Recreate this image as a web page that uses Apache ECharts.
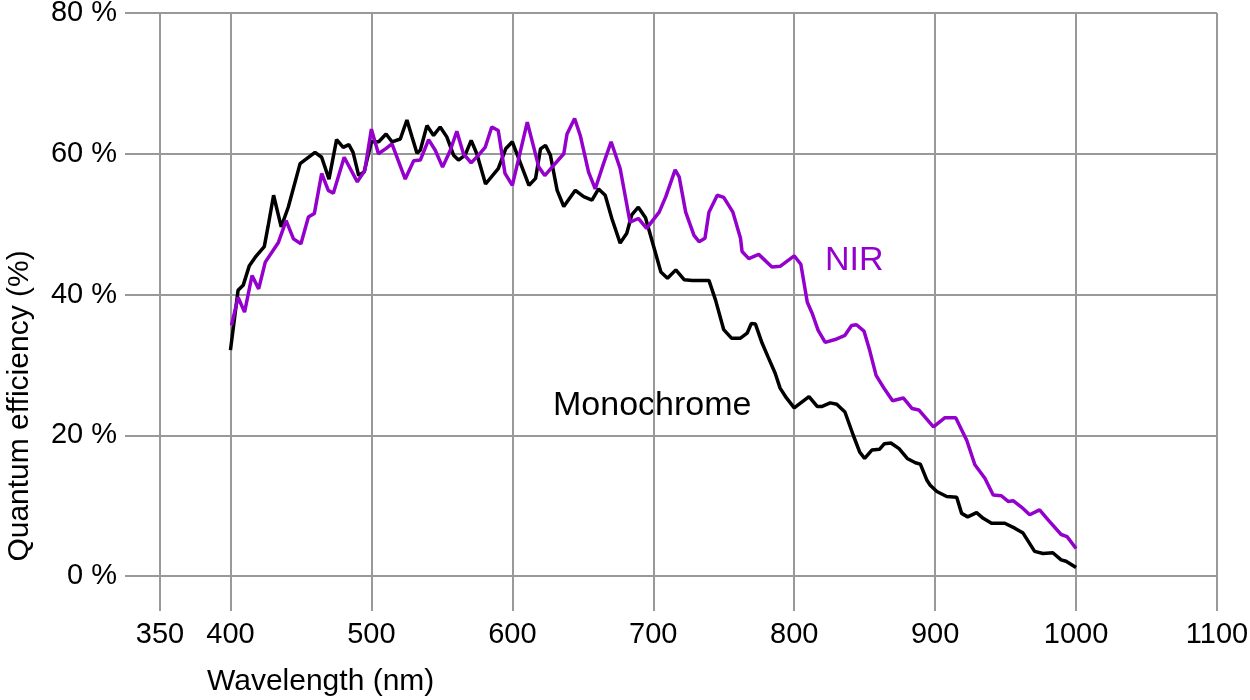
<!DOCTYPE html>
<html>
<head>
<meta charset="utf-8">
<script src="https://cdn.jsdelivr.net/npm/echarts@6/dist/echarts.min.js"></script>
<style>
html,body{margin:0;padding:0;background:#fff;}
#chart{width:1250px;height:700px;}
</style>
</head>
<body>
<div id="chart"></div>
<script>
// Monochrome sensor: wavelength (nm) and quantum efficiency (%)
var monoNm = [400,405.4,409,413.4,417.6,424,426.6,430.6,436,441,449.4,460,464.7,469.9,475.3,480,484,487,491,494.8,
  500,505.2,510.4,514.6,520.5,525.2,528.8,532.3,534.7,539.4,544.1,548.8,553.5,558.3,561.8,566.5,570.8,574.8,581,590,595.3,
  600,611.8,616.5,620,623.5,627,631.8,636.5,644.7,650.6,656.5,661.2,665.9,670.6,676.5,681.2,684.7,689.4,694.5,
  705.4,710.1,716,721.9,727.8,739.5,744.2,750,755.5,761.9,766.6,769.6,772.5,777.2,781.5,786.5,790,794.5,
  800,810.5,816.3,819.8,825.6,830.2,836,841.9,846.5,850,855.1,860.5,864,868.6,874.4,880.2,886,889.5,894.2,896.5,
  901.2,908.2,915.3,918.8,923.1,929.4,934.1,940,949.4,956.5,962.4,970.6,976.5,983.5,989.4,992.9,1000];
var monoQE = [32.1,40.6,41.3,44.1,45.3,46.8,49.6,54.1,49.6,52.4,58.6,60.2,59.5,56.4,62,60.9,61.3,60.2,56.9,57.4,
  61.7,61.7,62.8,61.7,62.1,64.8,62.4,60.1,60.5,64,62.6,63.8,62.4,59.8,59.1,59.8,61.9,60,55.7,57.9,60.7,
  61.7,55.5,56.5,60.7,61.2,59.8,54.8,52.5,54.8,53.9,53.4,55,54.1,50.8,47.3,48.7,51.3,52.4,50.9,
  43.2,42.3,43.5,42.1,42,42,39.2,35,33.8,33.8,34.5,35.9,35.8,33.1,31.1,28.8,26.7,25.3,
  23.9,25.5,24.1,24.1,24.6,24.4,23.3,20,17.6,16.7,17.9,18,18.8,18.9,18.1,16.7,16.1,15.9,13.6,12.9,
  12,11.3,11.2,8.9,8.4,9,8.2,7.5,7.5,6.8,6.1,3.5,3.2,3.3,2.3,2.1,1.2];

// NIR sensor: wavelength (nm) and quantum efficiency (%)
var nirNm = [400.7,405.4,410,415.3,420,424.7,434,439.5,444.7,450,455.3,459.5,464.7,469.4,473,480.7,490,495.3,
  500,505,510,514.6,524,530,534.7,540.6,545.3,550.5,556,560.6,565.3,570.8,576,580.7,585.4,590,594.8,
  600,610.6,618.8,623,628.2,636.5,638.8,644.2,648.2,654.1,658.8,664.7,670.1,676.5,683.5,689.4,695.3,
  704.2,708.9,715.5,718.4,723,728.9,732.5,736.7,739.5,745.4,750,756.5,761.9,763,767.8,774.8,784.2,790,
  800,804.7,809.3,812.8,817,822,829,836,840.7,844.2,849.5,853.5,858.1,864,869.8,877.4,883.7,888.4,
  898.8,907,914.6,922.4,928.2,935.3,941.2,947,951.8,955.3,961.2,967.1,974.1,980,989.4,993.6,1000];
var nirQE = [35.6,39.6,37.5,42.7,40.8,44.6,47.4,50.5,47.9,47.2,51,51.5,57.2,54.8,54.4,59.5,56,57.6,
  63.5,60,60.7,61.4,56.4,59,59.1,62,60.5,58.1,60.5,63.2,60,58.7,59.8,60.9,63.8,63.3,57.2,
  55.5,64.5,58.1,56.9,58.1,60,62.8,65,62.6,57.4,55,58.6,61.7,57.9,50.3,50.8,49.4,
  51.7,53.9,57.7,56.7,51.7,48.4,47.5,48,51.7,54.1,53.8,51.7,48,46.1,45.1,45.7,43.9,44,
  45.5,44.3,38.9,37.3,34.9,33.2,33.6,34.2,35.6,35.7,34.8,32.1,28.5,26.6,24.9,25.3,23.8,23.6,
  21.2,22.5,22.5,19.3,15.8,13.9,11.5,11.4,10.6,10.7,9.8,8.7,9.4,8,5.9,5.6,3.9];

var xTickLabels = [350,400,500,600,700,800,900,1000,1100];
var yTickLabels = [0,20,40,60,80];

function zip(a, b) { return a.map(function (v, i) { return [v, b[i]]; }); }

var FONT = "'Liberation Sans', Arial, Helvetica, sans-serif";
var GRID_COLOR = '#999999';

var chart = echarts.init(document.getElementById('chart'), null, {renderer: 'canvas'});
chart.setOption({
  animation: false,
  backgroundColor: '#ffffff',
  grid: {left: 160, right: 33, top: 13, bottom: 124, containLabel: false, outerBoundsMode: 'none'},
  xAxis: {
    type: 'value', min: 350, max: 1100, interval: 50,
    axisLine: {show: false},
    splitLine: {show: true, lineStyle: {color: GRID_COLOR, width: 2}},
    axisTick: {show: true, length: 35, customValues: xTickLabels, lineStyle: {color: GRID_COLOR, width: 2}},
    axisLabel: {show: true, customValues: xTickLabels, margin: 44, color: '#000', fontSize: 29, fontFamily: FONT,
      hideOverlap: false, formatter: function (v) { return String(v); }}
  },
  yAxis: {
    type: 'value', min: 0, max: 80, interval: 10,
    axisLine: {show: false},
    splitLine: {show: true, lineStyle: {color: GRID_COLOR, width: 2}},
    axisTick: {show: true, length: 35, customValues: yTickLabels, lineStyle: {color: GRID_COLOR, width: 2}},
    axisLabel: {show: true, customValues: yTickLabels, margin: 43, color: '#000', fontSize: 29, fontFamily: FONT,
      formatter: function (v) { return v + ' %'; }}
  },
  series: [
    {name: 'Monochrome', type: 'line', data: zip(monoNm, monoQE), showSymbol: false, symbol: 'none',
      lineStyle: {color: '#000000', width: 3.5}, z: 3},
    {name: 'NIR', type: 'line', data: zip(nirNm, nirQE), showSymbol: false, symbol: 'none',
      lineStyle: {color: '#9400cc', width: 3.5}, z: 4}
  ],
  graphic: [
    {type: 'text', x: 825, y: 261, style: {text: 'NIR', fill: '#9400cc', font: '34px ' + FONT, textVerticalAlign: 'middle'}},
    {type: 'text', x: 553, y: 406, style: {text: 'Monochrome', fill: '#000', font: '34px ' + FONT, textVerticalAlign: 'middle'}},
    {type: 'text', x: 207, y: 682, style: {text: 'Wavelength (nm)', fill: '#000', font: '30px ' + FONT, textVerticalAlign: 'middle'}},
    {type: 'text', x: 20, y: 406, rotation: Math.PI / 2,
      style: {text: 'Quantum efficiency (%)', fill: '#000', font: '30px ' + FONT, textAlign: 'center', textVerticalAlign: 'middle'}}
  ]
});
</script>
</body>
</html>
